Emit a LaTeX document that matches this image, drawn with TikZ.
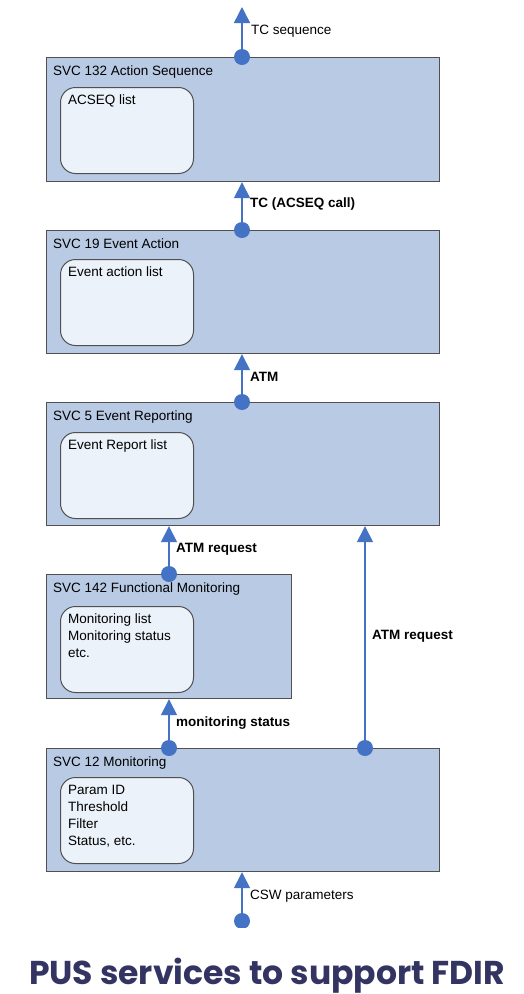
\documentclass[tikz,border=0pt]{standalone}
\usepackage{fontspec}
\setmainfont{Liberation Sans}
\newfontfamily\titlefont{Poppins}
\usetikzlibrary{arrows.meta}
\definecolor{boxfill}{RGB}{185,202,228}
\definecolor{innerfill}{RGB}{236,242,250}
\definecolor{edgegray}{RGB}{80,80,80}
\definecolor{arrowblue}{RGB}{68,114,196}
\definecolor{titlenavy}{RGB}{52,52,98}
\tikzset{
  svcbox/.style={draw=edgegray, line width=1.2pt, fill=boxfill, anchor=north west, inner sep=0pt},
  listbox/.style={draw=edgegray, line width=1pt, fill=innerfill, rounded corners=15pt, anchor=north west, inner sep=0pt, minimum width=133pt, minimum height=86pt},
  svctitle/.style={anchor=west, inner sep=0pt, font=\fontsize{13.5}{16}\selectfont},
  listtext/.style={anchor=north west, inner sep=0pt, align=left, font=\fontsize{13.5}{17}\selectfont},
  flowlabel/.style={anchor=west, inner sep=0pt, font=\fontsize{13.5}{16}\selectfont},
  boldlabel/.style={flowlabel, font=\fontsize{13.5}{16}\selectfont\bfseries},
  joint/.style={circle, fill=arrowblue, minimum size=16pt, inner sep=0pt},
  flow/.style={draw=arrowblue, line width=1.5pt, -{Triangle[width=16pt,length=16pt]}}
}
\begin{document}
\begin{tikzpicture}[x=1pt,y=-1pt]
\useasboundingbox[fill=white] (0,0) rectangle (524,994);

% boxes
\node[svcbox, minimum width=393pt, minimum height=124pt] (b132) at (46,57) {};
\node[svcbox, minimum width=393pt, minimum height=123pt] (b19) at (46,230) {};
\node[svcbox, minimum width=393pt, minimum height=123pt] (b5) at (46,402) {};
\node[svcbox, minimum width=245pt, minimum height=124pt] (b142) at (46,574) {};
\node[svcbox, minimum width=393pt, minimum height=123pt] (b12) at (46,748) {};

% titles
\node[svctitle] (t132) at (53,72) {SVC 132 Action Sequence};
\node[svctitle] (t19) at (53,244) {SVC 19 Event Action};
\node[svctitle] (t5) at (53,417) {SVC 5 Event Reporting};
\node[svctitle] (t142) at (53,589) {SVC 142 Functional Monitoring};
\node[svctitle] (t12) at (53,763) {SVC 12 Monitoring};

% inner lists
\node[listbox] (l132) at (60,87) {};
\node[listbox] (l19) at (60,259) {};
\node[listbox] (l5) at (60,432) {};
\node[listbox] (l142) at (60,606) {};
\node[listbox] (l12) at (60,777) {};

\node[listtext] (x132) at (68,95) {ACSEQ list};
\node[listtext] (x19) at (68,267) {Event action list};
\node[listtext] (x5) at (68,440) {Event Report list};
\node[listtext] (x142) at (68,614) {Monitoring list\\Monitoring status\\etc.};
\node[listtext] (x12) at (68,785) {Param ID\\Threshold\\Filter\\Status, etc.};

% free ends
\coordinate (top) at (242,7);

% joints
\node[joint] (j1) at (242,57) {};
\node[joint] (j2) at (242,230) {};
\node[joint] (j3) at (242,402) {};
\node[joint] (j4) at (169,574) {};
\node[joint] (j5) at (169,748) {};
\node[joint] (j6) at (365,748) {};
\begin{scope}
\clip (0,0) rectangle (524,927);
\node[joint] (j7) at (242,921) {};
\end{scope}

% connectors
\draw[flow] (j1.center) -- (top);
\draw[flow] (j2.center) -- (j2.center |- b132.south);
\draw[flow] (j3.center) -- (j3.center |- b19.south);
\draw[flow] (j4.center) -- (j4.center |- b5.south);
\draw[flow] (j6.center) -- (j6.center |- b5.south);
\draw[flow] (j5.center) -- (j5.center |- b142.south);
\draw[flow] (j7.center) -- (j7.center |- b12.south);

% labels
\node[flowlabel] (lab1) at (251,31) {TC sequence};
\node[boldlabel] (lab2) at (250,204) {TC (ACSEQ call)};
\node[boldlabel] (lab3) at (250,377) {ATM};
\node[boldlabel] (lab4) at (176,549) {ATM request};
\node[boldlabel] (lab5) at (372,636) {ATM request};
\node[boldlabel] (lab6) at (176,723) {monitoring status};
\node[flowlabel] (lab7) at (250,896) {CSW parameters};

% caption
\node[anchor=base, inner sep=0pt, text=titlenavy, font=\titlefont\fontsize{33}{38}\selectfont\bfseries] (cap) at (267,984) {PUS services to support FDIR};
\end{tikzpicture}
\end{document}
